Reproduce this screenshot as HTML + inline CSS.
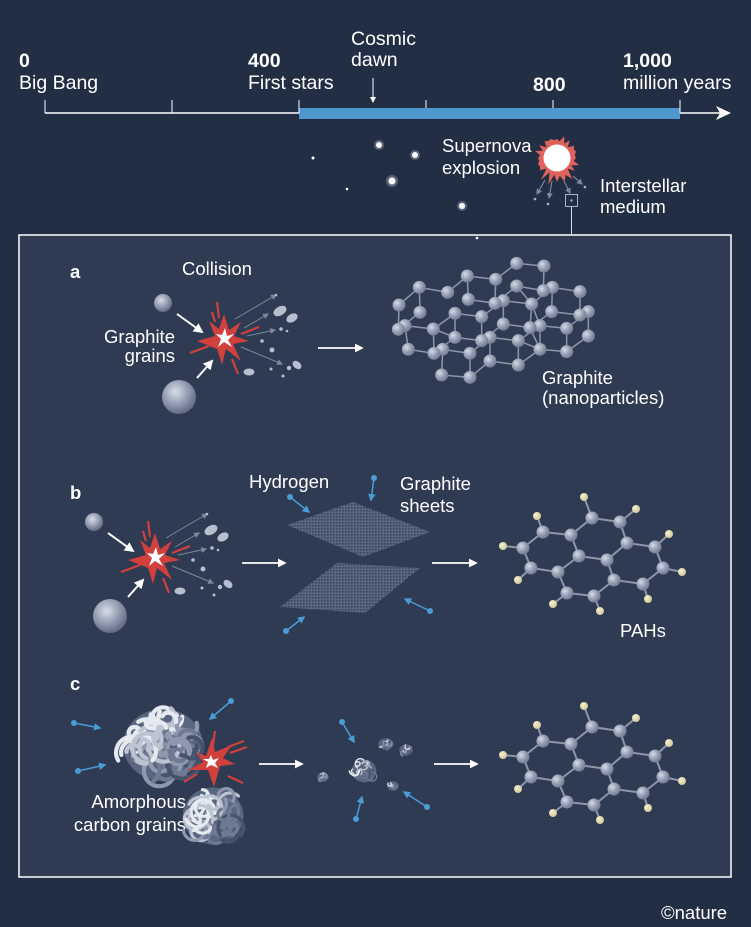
<!DOCTYPE html>
<html><head><meta charset="utf-8"><style>
html,body{margin:0;padding:0;background:#222e44;}
svg{display:block}
text{font-family:"Liberation Sans",sans-serif;fill:#fff;font-size:18.5px}
.t{font-size:19.5px}
.b{font-weight:bold}
</style></head><body>
<svg id="s" width="751" height="927" viewBox="0 0 751 927" xmlns="http://www.w3.org/2000/svg">
<defs>
<radialGradient id="ball" cx="0.35" cy="0.35" r="0.7"><stop offset="0" stop-color="#d6dbe6"/><stop offset="0.5" stop-color="#9aa3b6"/><stop offset="1" stop-color="#6f7890"/></radialGradient>
<radialGradient id="hb" cx="0.35" cy="0.35" r="0.7"><stop offset="0" stop-color="#f5f0d0"/><stop offset="1" stop-color="#cfc79a"/></radialGradient>
<radialGradient id="grain" cx="0.4" cy="0.35" r="0.75"><stop offset="0" stop-color="#d8dde8"/><stop offset="0.55" stop-color="#8c95aa"/><stop offset="1" stop-color="#4f5a72"/></radialGradient>
<marker id="aw" viewBox="0 0 10 10" refX="8" refY="5" markerWidth="5" markerHeight="5" orient="auto"><path d="M0,0 L10,5 L0,10 z" fill="#fff"/></marker>
<marker id="ag" viewBox="0 0 10 10" refX="8" refY="5" markerWidth="6" markerHeight="6" orient="auto"><path d="M0,0 L10,5 L0,10 z" fill="#7e889c"/></marker>
<marker id="ab" viewBox="0 0 10 10" refX="8" refY="5" markerWidth="5" markerHeight="5" orient="auto"><path d="M0,0 L10,5 L0,10 z" fill="#4a9bd6"/></marker>
<pattern id="mesh" width="3" height="3" patternUnits="userSpaceOnUse"><rect width="3" height="3" fill="#5f6b82"/><rect width="1.6" height="1.6" fill="#3a4660"/></pattern>
</defs>

<line x1="45" y1="113" x2="722" y2="113" stroke="#fff" stroke-width="1.5"/>
<path d="M716,106 L731,113 L716,120 L720,113z" fill="#fff"/>
<rect x="299" y="108" width="381" height="11" fill="#4f97cf"/>
<g stroke="#fff" stroke-width="1">
<line x1="45" y1="100" x2="45" y2="113"/><line x1="172" y1="100" x2="172" y2="113"/><line x1="299" y1="100" x2="299" y2="113"/><line x1="426" y1="100" x2="426" y2="108"/><line x1="553" y1="100" x2="553" y2="108"/><line x1="680" y1="100" x2="680" y2="113"/>
<line x1="373" y1="78" x2="373" y2="100"/></g>
<path d="M370,97 L373,103 L376,97z" fill="#fff"/>
<text x="19" y="67" class="b t">0</text><text x="19" y="89" class="t">Big Bang</text>
<text x="248" y="67" class="b t">400</text><text x="248" y="89" class="t">First stars</text>
<text x="351" y="45" class="t">Cosmic</text><text x="351" y="66" class="t">dawn</text>
<text x="533" y="91" class="b t">800</text>
<text x="623" y="67" class="b t">1,000</text><text x="623" y="89" class="t">million years</text>

<g fill="#fff"><circle cx="313" cy="158" r="1.5"/><circle cx="379" cy="145" r="3"/><circle cx="415" cy="155" r="3"/><circle cx="347" cy="189" r="1.3"/><circle cx="392" cy="181" r="3.5"/><circle cx="462" cy="206" r="3"/><circle cx="477" cy="238" r="1.3"/></g>
<g fill="#fff" opacity="0.25"><circle cx="379" cy="145" r="5"/><circle cx="415" cy="155" r="5"/><circle cx="392" cy="181" r="6"/><circle cx="462" cy="206" r="5"/></g>
<polygon id="sn" fill="#e0625d"/>
<circle cx="557" cy="158" r="13.5" fill="#fff"/>
<text x="442" y="152">Supernova</text><text x="442" y="174">explosion</text>
<text x="600" y="192">Interstellar</text><text x="600" y="213">medium</text>
<g stroke="#8a93a6" stroke-width="1" fill="none">
<line x1="545" y1="180" x2="537" y2="194" marker-end="url(#ag)"/><line x1="552" y1="181" x2="549" y2="198" marker-end="url(#ag)"/><line x1="564" y1="181" x2="570" y2="193" marker-end="url(#ag)"/><line x1="573" y1="176" x2="582" y2="184" marker-end="url(#ag)"/>
<rect x="565.5" y="194.5" width="12" height="12" stroke="#aab2c2"/><line x1="571.5" y1="207" x2="571.5" y2="235" stroke="#ddd"/></g>
<g fill="#aab2c2"><circle cx="535" cy="199" r="1.3"/><circle cx="548" cy="204" r="1.3"/><circle cx="585" cy="187" r="1.3"/><circle cx="571.5" cy="200.5" r="1.2"/></g>

<rect x="19" y="235" width="712" height="642" fill="#2e3b52" stroke="#fff" stroke-width="1.5"/>
<circle cx="477" cy="238" r="1.3" fill="#fff"/>

<text x="70" y="278" class="b">a</text>
<text x="182" y="275">Collision</text>
<text x="175" y="343" text-anchor="end">Graphite</text><text x="175" y="362" text-anchor="end">grains</text>
<text x="542" y="384">Graphite</text><text x="542" y="404">(nanoparticles)</text>
<text x="70" y="499" class="b">b</text>
<text x="249" y="488">Hydrogen</text>
<text x="400" y="490">Graphite</text><text x="400" y="512">sheets</text>
<text x="620" y="637">PAHs</text>
<text x="70" y="690" class="b">c</text>
<text x="186" y="808" text-anchor="end">Amorphous</text><text x="186" y="831" text-anchor="end">carbon grains</text>
<text x="661" y="919" font-size="17" fill="#ccd">©nature</text>

<g stroke="#fff" stroke-width="1.8" fill="none" marker-end="url(#aw)">
<line x1="318" y1="348" x2="362" y2="348"/><line x1="242" y1="563" x2="285" y2="563"/><line x1="432" y1="563" x2="476" y2="563"/><line x1="259" y1="764" x2="302" y2="764"/><line x1="434" y1="764" x2="477" y2="764"/></g>

<g id="col">
<circle cx="94" cy="522" r="9" fill="url(#grain)"/>
<circle cx="110" cy="616" r="17" fill="url(#grain)"/>
<g stroke="#fff" stroke-width="2" marker-end="url(#aw)"><line x1="108" y1="533" x2="133" y2="551"/><line x1="128" y1="597" x2="143" y2="580"/></g>
<g stroke="#d0403d" stroke-width="2.2"><line x1="148" y1="521" x2="150" y2="537"/><line x1="143" y1="531" x2="146" y2="541"/><line x1="121" y1="572" x2="140" y2="565"/><line x1="163" y1="578" x2="169" y2="593"/><line x1="172" y1="553" x2="190" y2="546"/></g>
<polygon fill="#d0403d" points="155,533 160,549 172,541 165,555 180,560 164,563 172,580 157,568 153,584 148,568 128,560 146,555 140,540 150,548"/>
<polygon fill="#fff" points="156,547 158,555 165,553 159,559 163,566 155,561 149,566 152,558 147,553 153,554"/>
<g stroke="#7e889c" stroke-width="1" marker-end="url(#ag)"><line x1="166" y1="538" x2="207" y2="514"/><line x1="175" y1="547" x2="199" y2="533"/><line x1="178" y1="555" x2="206" y2="549"/><line x1="172" y1="566" x2="213" y2="583"/></g>
<g fill="#b7bfcf"><ellipse cx="211" cy="530" rx="7" ry="4.5" transform="rotate(-30 211 530)"/><ellipse cx="223" cy="537" rx="6" ry="4" transform="rotate(-30 223 537)"/><circle cx="212" cy="548" r="1.8"/><circle cx="218" cy="550" r="1.3"/><circle cx="193" cy="560" r="1.8"/><circle cx="203" cy="569" r="2.5"/><ellipse cx="228" cy="584" rx="5" ry="3.5" transform="rotate(40 228 584)"/><circle cx="220" cy="587" r="2.2"/><ellipse cx="180" cy="591" rx="5.5" ry="3.5"/><circle cx="202" cy="588" r="1.5"/><circle cx="214" cy="595" r="1.5"/><circle cx="207" cy="514" r="1.3"/></g>
</g>
<use href="#col" transform="translate(69,-219)"/>

<g id="nano"></g>

<polygon points="287,525 353,502 430,532 363,557" fill="url(#mesh)" opacity="0.9"/>
<polygon points="337,563 420,568 365,613 280,607" fill="url(#mesh)" opacity="0.9"/>

<g stroke="#4a9bd6" stroke-width="1.5" marker-end="url(#ab)" fill="none">
<line x1="290" y1="497" x2="309" y2="512"/><line x1="374" y1="478" x2="371" y2="500"/><line x1="286" y1="631" x2="304" y2="617"/><line x1="430" y1="611" x2="405" y2="599"/>
<line x1="74" y1="723" x2="100" y2="728"/><line x1="78" y1="771" x2="105" y2="765"/><line x1="231" y1="701" x2="210" y2="719"/><line x1="342" y1="722" x2="354" y2="742"/><line x1="356" y1="819" x2="362" y2="797"/><line x1="427" y1="807" x2="404" y2="792"/></g>
<g fill="#4a9bd6"><circle cx="290" cy="497" r="3"/><circle cx="374" cy="478" r="3"/><circle cx="286" cy="631" r="3"/><circle cx="430" cy="611" r="3"/><circle cx="74" cy="723" r="3"/><circle cx="78" cy="771" r="3"/><circle cx="231" cy="701" r="3"/><circle cx="342" cy="722" r="3"/><circle cx="356" cy="819" r="3"/><circle cx="427" cy="807" r="3"/></g>

<g id="amo"></g>
<g stroke="#d0403d" stroke-width="2.2"><line x1="215" y1="731" x2="213" y2="745"/><line x1="228" y1="747" x2="244" y2="741"/><line x1="230" y1="753" x2="247" y2="747"/><line x1="228" y1="776" x2="243" y2="783"/><line x1="184" y1="782" x2="197" y2="774"/></g>
<polygon fill="#d0403d" points="212,738 215,752 232,745 223,758 235,764 220,766 214,787 208,770 188,770 203,762 196,752 206,756"/>
<polygon fill="#fff" points="211,755 213,760 219,758 215,763 218,768 211,765 206,768 208,762 203,759 209,759"/>

<g id="pah1"></g><g id="pah2" transform="translate(0,209)"></g>
</svg>
<script>
var NS="http://www.w3.org/2000/svg";
function el(p,t,a){var e=document.createElementNS(NS,t);for(var k in a)e.setAttribute(k,a[k]);p.appendChild(e);return e;}
(function(){var pts=[],n=40;for(var i=0;i<n;i++){var a=i/n*Math.PI*2,r=(i%2?17:21)+((i*7)%5)-2;if(Math.sin(a)>0.6&&i%2==0)r+=5;pts.push((557+r*Math.cos(a)).toFixed(1)+","+(158+r*Math.sin(a)).toFixed(1));}document.getElementById("sn").setAttribute("points",pts.join(" "));})();
var C=[[543,532],[571,535],[592,518],[620,522],[627,543],[655,547],[663,568],[643,584],[614,580],[607,560],[579,556],[558,572],[531,568],[523,548],[567,593],[594,596]];
var H=[[584,497,2],[636,509,3],[669,534,5],[682,572,6],[648,599,7],[600,611,15],[553,604,14],[518,580,12],[503,546,13],[537,516,0]];
var B=[[0,13],[13,12],[12,11],[11,10],[10,1],[1,0],[1,2],[2,3],[3,4],[4,9],[9,10],[4,5],[5,6],[6,7],[7,8],[8,9],[8,15],[15,14],[14,11]];
function pah(g){B.forEach(function(b){el(g,"line",{x1:C[b[0]][0],y1:C[b[0]][1],x2:C[b[1]][0],y2:C[b[1]][1],stroke:"#8d96aa","stroke-width":2});});
H.forEach(function(h){var c=C[h[2]];el(g,"line",{x1:h[0],y1:h[1],x2:c[0],y2:c[1],stroke:"#8d96aa","stroke-width":2});el(g,"circle",{cx:h[0],cy:h[1],r:4,fill:"url(#hb)"});});
C.forEach(function(c){el(g,"circle",{cx:c[0],cy:c[1],r:6.5,fill:"url(#ball)"});});}
pah(document.getElementById("pah1"));pah(document.getElementById("pah2"));
var Z=[[410,40],[492,48],[262,78],[347,88],[517,112],[490,122],[410,108],[118,112],[203,127],[600,125],[370,152],[345,160],[265,148],[455,162],[57,165],[120,187],[225,190],[515,185],[625,185],[600,195],[305,200],[75,227],[55,238],[160,237],[370,222],[480,227],[450,233],[560,235],[225,262],[330,262],[305,272],[415,272],[625,258],[85,298],[188,298],[162,310],[270,310],[480,298],[560,305],[330,333],[415,345],[185,375],[270,382]];
var N=Z.map(function(p){return [p[0]/3+380,p[1]/3+250];});
var g=document.getElementById("nano");
for(var i=0;i<N.length;i++)for(var j=i+1;j<N.length;j++){var dx=N[i][0]-N[j][0],dy=N[i][1]-N[j][1],d=Math.sqrt(dx*dx+dy*dy);if(d>23&&d<30)el(g,"line",{x1:N[i][0],y1:N[i][1],x2:N[j][0],y2:N[j][1],stroke:"#8d96aa","stroke-width":1.5});}
N.forEach(function(c){el(g,"circle",{cx:c[0],cy:c[1],r:6.5,fill:"url(#ball)"});});
var seed=7;function rnd(){seed=(seed*9301+49297)%233280;return seed/233280;}
function amo(cx,cy,rx,ry,n){var g=document.getElementById("amo");el(g,"ellipse",{cx:cx,cy:cy,rx:rx*0.95,ry:ry*0.95,fill:"#5a6680"});
for(var i=0;i<n;i++){var a=rnd()*6.283,d=Math.sqrt(rnd())*0.78,rr=Math.min(rx,ry)*(0.15+rnd()*0.3);
var x=cx+d*rx*Math.cos(a),y=cy+d*ry*Math.sin(a),s=rnd()*6.283,e=s+1.5+rnd()*3.5;
var x1=x+rr*Math.cos(s),y1=y+rr*Math.sin(s),x2=x+rr*Math.cos(e),y2=y+rr*Math.sin(e);
var light=-(Math.cos(a)+Math.sin(a))*d*0.7+rnd()*0.6;
var col=light>0.6?"#e6e9f0":light>0.35?"#bcc3d1":light>0.05?"#8f99ad":light>-0.3?"#6e7992":"#46516a";
el(g,"path",{d:"M"+x1+","+y1+" A"+rr+","+rr+" 0 "+((e-s)>Math.PI?1:0)+",1 "+x2+","+y2,fill:"none",stroke:col,"stroke-width":Math.max(1.2,rx/10),"stroke-linecap":"round"});}}
amo(163,745,42,38,70);amo(213,816,32,30,50);amo(364,771,13,12,18);amo(386,744,8,6,8);amo(406,750,7,6,8);amo(323,777,6,5,6);amo(393,786,6,5,6);
</script>
</body></html>
